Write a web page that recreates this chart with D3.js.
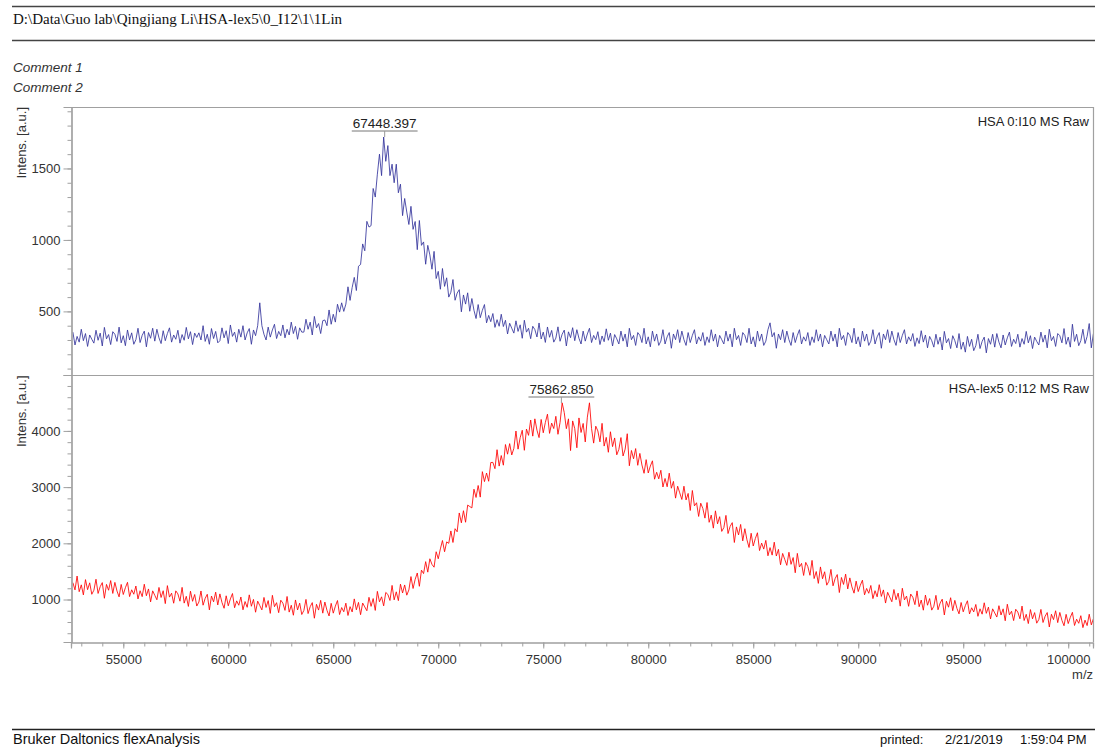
<!DOCTYPE html>
<html>
<head>
<meta charset="utf-8">
<script src="https://cdn.jsdelivr.net/npm/d3@7"></script>
<style>
  html, body { margin: 0; padding: 0; background: #fff; }
  svg { display: block; }
  text { font-family: "Liberation Sans", Arial, sans-serif; }
</style>
</head>
<body>
<svg id="chart" width="1095" height="748"></svg>
<script>
// ---------------- data ----------------
const headerPath = "D:\\Data\\Guo lab\\Qingjiang Li\\HSA-lex5\\0_I12\\1\\1Lin";
const comments = ["Comment 1", "Comment 2"];
const footerLeft = "Bruker Daltonics flexAnalysis";
const footerRight = ["printed:", "2/21/2019", "1:59:04 PM"];
const yTitle = "Intens. [a.u.]";
const xTitle = "m/z";

const seriesNames = ["HSA 0:I10 MS Raw", "HSA-lex5 0:I12 MS Raw"];
const peakMz = [67448.397, 75862.850];
const peakLabels = ["67448.397", "75862.850"];

// sampling grid of the spectra (m/z): 52600 ... 101200
const mzStart = 52600;
const mzStep = 100;

// top spectrum (HSA), intensities
const hsaValues = [
  355,265,325,285,375,295,345,255,335,305,
  278,368,298,348,258,388,308,338,268,358,
  340,290,390,280,330,260,370,300,350,270,
  302,382,282,332,362,252,352,312,382,292,
  375,315,275,365,295,345,385,285,335,305,
  368,278,338,298,388,308,358,268,348,318,
  350,300,400,290,340,270,380,310,360,280,
  295,385,315,365,275,405,325,355,285,375,
  320,400,300,350,380,270,370,330,400,560,
  400,340,300,390,320,370,410,310,360,330,
  405,315,375,335,425,345,395,305,385,355,
  355,445,375,425,335,465,385,415,345,435,
  440,400,510,410,480,425,550,495,560,500,
  551,672,577,667,738,646,816,828,972,924,
  1130,1090,1100,1360,1300,1460,1600,1450,1720,1550,
  1660,1450,1530,1400,1530,1330,1390,1170,1290,1195,
  1108,1235,1074,1129,932,1136,962,986,830,962,
  895,795,920,730,780,655,800,675,735,600,
  634,723,578,628,652,497,615,551,630,501,
  590,508,450,548,456,508,548,420,472,428,
  485,388,442,396,480,394,438,342,417,382,
  348,434,360,406,312,438,355,382,309,396,
  373,321,419,307,355,283,391,319,367,285,
  313,392,291,340,369,258,357,316,386,295,
  372,312,272,362,292,342,382,282,332,302,
  358,268,328,288,378,298,348,258,338,308,
  272,362,292,342,252,382,302,332,262,352,
  332,282,382,272,322,252,362,292,342,262,
  292,372,272,322,352,242,342,302,372,282,
  362,302,262,352,282,332,372,272,322,292,
  352,262,322,282,372,292,342,252,332,302,
  272,362,292,342,252,382,302,332,262,352,
  332,282,382,272,322,252,362,292,342,262,
  292,372,420,322,352,242,342,302,372,282,
  362,302,262,352,282,332,372,272,322,292,
  352,262,322,282,372,292,342,252,332,302,
  272,362,292,342,252,382,302,332,262,352,
  332,282,382,272,322,252,362,292,342,262,
  292,372,272,322,352,242,342,302,372,282,
  362,302,262,352,282,332,372,272,322,292,
  345,255,315,275,365,285,335,245,325,295,
  250,340,270,320,230,360,280,310,240,330,
  295,245,345,235,285,215,325,255,305,225,
  260,340,240,290,320,210,310,270,340,250,
  345,285,245,335,265,315,355,255,305,275,
  340,250,310,270,360,280,330,240,320,290,
  265,355,285,335,245,375,295,325,255,345,
  330,280,380,270,320,250,410,290,340,260,
  295,375,275,325,415,245,345
];

// bottom spectrum (HSA-lex5), intensities
const lexValues = [
  1300,1171,1418,1139,1261,1082,1354,1175,1297,1093,
  1165,1361,1108,1229,1301,1022,1269,1165,1337,1108,
  1305,1151,1047,1268,1089,1210,1306,1052,1173,1094,
  1240,1010,1156,1051,1272,1067,1188,958,1154,1074,
  995,1215,1036,1156,927,1247,1043,1113,934,1154,
  1100,970,1216,936,1057,877,1148,968,1089,884,
  955,1152,899,1021,1093,815,1062,959,1131,903,
  1100,947,844,1066,888,1010,1107,854,976,898,
  1045,817,964,861,1083,880,1002,774,971,893,
  815,1037,859,981,753,1075,872,944,766,988,
  935,807,1054,776,898,720,992,814,936,733,
  805,1002,750,872,945,667,915,812,985,757,
  955,807,707,932,757,882,982,732,857,782,
  935,716,873,779,1011,817,949,730,937,868,
  800,1039,878,1017,806,1145,959,1048,887,1126,
  1090,983,1251,994,1137,980,1273,1116,1259,1077,
  1170,1408,1196,1359,1472,1235,1523,1461,1674,1487,
  1725,1625,1575,1850,1725,1900,2050,1850,2025,2000,
  2220,2015,2260,2205,2540,2365,2580,2375,2680,2655,
  2630,2963,2816,3029,2822,3275,3098,3251,3104,3437,
  3440,3328,3666,3374,3562,3390,3758,3586,3774,3572,
  3690,3998,3676,3879,4012,3655,4033,3921,4194,3907,
  4215,4013,3881,4204,3967,4150,4298,3956,4139,4042,
  4260,3940,4150,4500,4325,4040,4215,3650,4178,4040,
  3700,4231,3972,4133,3804,4245,4500,4042,3783,4084,
  4000,3805,4135,3730,3885,3620,3985,3720,3875,3575,
  3670,3882,3554,3676,3950,3380,3652,3504,3686,3388,
  3600,3393,3246,3489,3252,3375,3468,3141,3264,3147,
  3300,3002,3154,3006,3248,2980,3102,2804,3016,2898,
  2780,3016,2772,2888,2584,2940,2666,2722,2478,2714,
  2620,2448,2726,2374,2502,2270,2578,2346,2474,2212,
  2280,2497,2174,2301,2368,2015,2292,2149,2336,2043,
  2260,2063,1926,2179,1952,2085,2188,1871,2004,1897,
  2052,1778,1924,1790,2020,1774,1892,1618,1820,1714,
  1608,1841,1626,1747,1476,1821,1578,1643,1428,1661,
  1586,1431,1696,1373,1498,1287,1580,1369,1494,1255,
  1324,1536,1244,1372,1444,1124,1392,1268,1452,1188,
  1385,1224,1113,1327,1141,1255,1344,1083,1197,1111,
  1250,1016,1157,1048,1264,1055,1171,937,1128,1044,
  960,1178,996,1114,882,1200,993,1061,879,1097,
  1040,909,1153,872,991,810,1079,898,1017,811,
  880,1074,818,937,1006,725,969,863,1032,801,
  985,842,745,947,781,891,978,743,853,779,
  912,701,835,739,942,754,865,654,834,761,
  688,890,724,834,622,916,727,791,625,827,
  776,657,883,626,737,572,821,656,767,579,
  644,824,591,702,768,511,738,642,800,589,
  770,628,533,736,572,683,772,538,650,577,
  712,500,633,536,738,549,659
];

// axis ticks
const xMajorTicks = [55000, 60000, 65000, 70000, 75000, 80000, 85000, 90000, 95000, 100000];
const xMinorTicks = d3.range(53000, 101001, 1000);
const yTopMajorTicks = [500, 1000, 1500];
const yTopMinorTicks = d3.range(100, 1901, 100);
const yBotMajorTicks = [1000, 2000, 3000, 4000];
const yBotMinorTicks = d3.range(400, 4801, 200);
const xDomain = [52510, 101180];
const yTopDomain = [55, 1930];
const yBotDomain = [244, 4995];

// ---------------- layout ----------------
const svg = d3.select("#chart");
const L = 71, R = 1093;
const T1 = 107, B1 = 375, T2 = 375, B2 = 642;
const axisColor = "#a0a0a0";
const textColor = "#333";

const x = d3.scaleLinear().domain(xDomain).range([L, R]);
const y1 = d3.scaleLinear().domain(yTopDomain).range([B1, T1]);
const y2 = d3.scaleLinear().domain(yBotDomain).range([B2, T2]);

// header
svg.append("line").attr("x1", 12).attr("x2", 1095).attr("y1", 6.5).attr("y2", 6.5)
  .attr("stroke", "#444").attr("stroke-width", 1.3);
svg.append("text").attr("x", 13).attr("y", 24)
  .style("font-family", "'Liberation Serif', 'Times New Roman', serif")
  .style("font-size", "15px").attr("fill", "#111").text(headerPath);
svg.append("line").attr("x1", 12).attr("x2", 1095).attr("y1", 40.5).attr("y2", 40.5)
  .attr("stroke", "#444").attr("stroke-width", 1.3);

comments.forEach((c, i) => {
  svg.append("text").attr("x", 13).attr("y", 71.5 + i * 20)
    .style("font-size", "13.5px").style("font-style", "italic")
    .attr("fill", textColor).text(c);
});

// clip paths
const defs = svg.append("defs");
defs.append("clipPath").attr("id", "clipTop").append("rect")
  .attr("x", L).attr("y", T1).attr("width", R - L).attr("height", B1 - T1);
defs.append("clipPath").attr("id", "clipBot").append("rect")
  .attr("x", L).attr("y", T2).attr("width", R - L).attr("height", B2 - T2);

// spectra
const lineTop = d3.line().x((d, i) => x(mzStart + i * mzStep)).y(d => y1(d));
const lineBot = d3.line().x((d, i) => x(mzStart + i * mzStep)).y(d => y2(d));

svg.append("path").datum(hsaValues).attr("clip-path", "url(#clipTop)")
  .attr("d", lineTop).attr("fill", "none")
  .attr("stroke", "#34349c").attr("stroke-width", 0.85).attr("stroke-linejoin", "round");
svg.append("path").datum(lexValues).attr("clip-path", "url(#clipBot)")
  .attr("d", lineBot).attr("fill", "none")
  .attr("stroke", "#ff0000").attr("stroke-width", 0.85).attr("stroke-linejoin", "round");

// frames (top border, divider, right border)
svg.append("line").attr("x1", L).attr("x2", R).attr("y1", T1 + 0.5).attr("y2", T1 + 0.5)
  .attr("stroke", axisColor).attr("stroke-width", 1.2);
svg.append("line").attr("x1", L).attr("x2", R).attr("y1", B1 + 0.5).attr("y2", B1 + 0.5)
  .attr("stroke", axisColor).attr("stroke-width", 1.2);
svg.append("line").attr("x1", R + 0.5).attr("x2", R + 0.5).attr("y1", T1).attr("y2", B2)
  .attr("stroke", axisColor).attr("stroke-width", 1.2);

function styleAxis(g) {
  g.select(".domain").attr("stroke", axisColor).attr("stroke-width", 1.2);
  g.selectAll(".tick line").attr("stroke", axisColor);
  g.selectAll(".tick text").attr("fill", textColor).style("font-size", "13px")
    .style("font-family", "'Liberation Sans', Arial, sans-serif");
}

// y axes
function yAxis(scale, majors, minors) {
  const gMin = svg.append("g").attr("transform", `translate(${L + 0.5},0)`)
    .call(d3.axisLeft(scale).tickValues(minors).tickSize(4).tickFormat(""));
  styleAxis(gMin);
  const gMaj = svg.append("g").attr("transform", `translate(${L + 0.5},0)`)
    .call(d3.axisLeft(scale).tickValues(majors).tickSize(8).tickPadding(3).tickFormat(d3.format("d")));
  styleAxis(gMaj);
}
yAxis(y1, yTopMajorTicks, yTopMinorTicks);
yAxis(y2, yBotMajorTicks, yBotMinorTicks);

// x axis
const gxMin = svg.append("g").attr("transform", `translate(0,${B2 + 0.5})`)
  .call(d3.axisBottom(x).tickValues(xMinorTicks).tickSize(4).tickFormat(""));
styleAxis(gxMin);
const gxMaj = svg.append("g").attr("transform", `translate(0,${B2 + 0.5})`)
  .call(d3.axisBottom(x).tickValues(xMajorTicks).tickSize(6).tickPadding(6).tickFormat(d3.format("d")));
styleAxis(gxMaj);

svg.append("text").attr("x", 1093).attr("y", 679).attr("text-anchor", "end")
  .style("font-size", "13px").attr("fill", textColor).text(xTitle);

// y titles
[[T1, 26], [T2 + 0.5, 26]].forEach(([yy, xx]) => {
  svg.append("text").attr("transform", `translate(${xx},${yy}) rotate(-90)`)
    .attr("text-anchor", "end").style("font-size", "13px")
    .attr("fill", textColor).text(yTitle);
});

// series labels
svg.append("text").attr("x", 1089).attr("y", 126).attr("text-anchor", "end")
  .style("font-size", "13px").attr("fill", "#222").text(seriesNames[0]);
svg.append("text").attr("x", 1089).attr("y", 393).attr("text-anchor", "end")
  .style("font-size", "13px").attr("fill", "#222").text(seriesNames[1]);

// peak labels
function peakLabel(mz, label, baseY) {
  const px = x(mz);
  const t = svg.append("text").attr("x", px).attr("y", baseY).attr("text-anchor", "middle")
    .style("font-size", "13.5px").attr("fill", "#222").text(label);
  const w = t.node().getComputedTextLength();
  svg.append("line").attr("x1", px - w / 2 - 1).attr("x2", px + w / 2 + 1)
    .attr("y1", baseY + 3).attr("y2", baseY + 3).attr("stroke", "#777").attr("stroke-width", 1);
  svg.append("line").attr("x1", px).attr("x2", px)
    .attr("y1", baseY + 3).attr("y2", baseY + 9).attr("stroke", "#999").attr("stroke-width", 1);
}
peakLabel(peakMz[0], peakLabels[0], 128);
peakLabel(peakMz[1], peakLabels[1], 394);

// footer
svg.append("line").attr("x1", 12).attr("x2", 1095).attr("y1", 729.5).attr("y2", 729.5)
  .attr("stroke", "#222").attr("stroke-width", 1.3);
svg.append("text").attr("x", 13).attr("y", 744).style("font-size", "14.5px")
  .attr("fill", "#111").text(footerLeft);
const frX = [880, 945, 1020];
footerRight.forEach((s, i) => {
  svg.append("text").attr("x", frX[i]).attr("y", 744).style("font-size", "13px")
    .attr("fill", "#111").text(s);
});
</script>
</body>
</html>
